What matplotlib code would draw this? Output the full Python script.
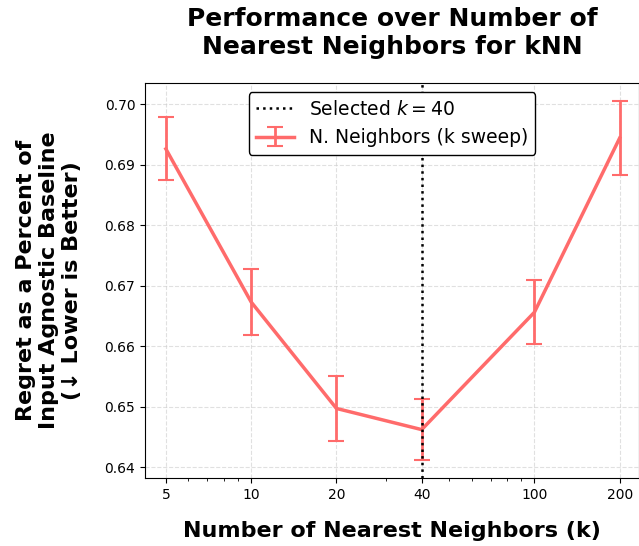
import matplotlib
matplotlib.use('Agg')
import matplotlib.pyplot as plt
from matplotlib.ticker import FixedLocator, NullFormatter, LogLocator

# data
k_values = [5, 10, 20, 40, 100, 200]
regret = [0.6926, 0.6673, 0.6497, 0.6462, 0.6656, 0.6944]
regret_err = [0.0052, 0.0055, 0.0054, 0.0050, 0.0053, 0.0061]
selected_k = 40
tick_labels = ['5', '10', '20', '40', '100', '200']

fig = plt.figure(figsize=(6.39, 5.46), dpi=100)
ax = fig.add_axes([145/639, 1-478/546, 494/639, 395/546])

ax.axvline(selected_k, color='black', linestyle=':', linewidth=1.8, zorder=5,
           label=r'Selected $k = 40$')
ax.errorbar(k_values, regret, yerr=regret_err, color='#FF6B6B', linewidth=2.5,
            elinewidth=2, capsize=5.5, capthick=1.5, label='N. Neighbors (k sweep)')

ax.set_xscale('log')
ax.set_xlim(4.22, 234)
ax.set_ylim(0.6382, 0.7035)
ax.xaxis.set_major_locator(FixedLocator(k_values))
ax.set_xticklabels(tick_labels)
ax.xaxis.set_minor_locator(LogLocator(base=10, subs=range(2, 10)))
ax.xaxis.set_minor_formatter(NullFormatter())
ax.tick_params(labelsize=10)
ax.grid(True, which='major', linestyle='--', color='#cccccc', alpha=0.6)

ax.set_xlabel('Number of Nearest Neighbors (k)', fontsize=16, fontweight='bold', labelpad=14)
ax.set_ylabel('Regret as a Percent of\nInput Agnostic Baseline\n(↓ Lower is Better)',
              fontsize=16, fontweight='bold', labelpad=16)
ax.set_title('Performance over Number of\nNearest Neighbors for kNN',
             fontsize=18, fontweight='bold', pad=21)

ax.legend(loc='upper center', fontsize=13.5, framealpha=1, edgecolor='black',
          borderaxespad=0.5)

plt.savefig('out.png', dpi=100)
